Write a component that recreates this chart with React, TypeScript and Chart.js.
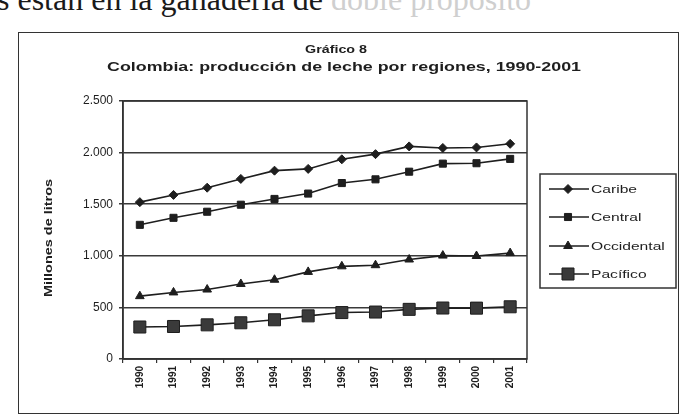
import React, { useEffect, useRef } from "react";
import { Chart, registerables } from "chart.js";

Chart.register(...registerables);

const years = ["1990", "1991", "1992", "1993", "1994", "1995", "1996", "1997", "1998", "1999", "2000", "2001"];
const caribe = [1520, 1590, 1660, 1745, 1825, 1842, 1935, 1985, 2060, 2045, 2050, 2085];
const central = [1300, 1368, 1427, 1495, 1551, 1603, 1705, 1741, 1815, 1893, 1897, 1939];
const occidental = [609, 645, 673, 727, 768, 844, 898, 909, 964, 1002, 998, 1026];
const pacifico = [310, 315, 331, 351, 380, 418, 450, 455, 481, 494, 493, 506];
const seriesNames = ["Caribe", "Central", "Occidental", "Pacífico"];
const titleLine1 = "Gráfico 8";
const titleLine2 = "Colombia: producción de leche por regiones, 1990-2001";
const yAxisTitle = "Millones de litros";

const INK = "#1e1e1e";
const FONT = "'Liberation Sans', Arial, sans-serif";

function fmt(v: number): string {
  return String(v).replace(/\B(?=(\d{3})+(?!\d))/g, ".");
}

function drawMarker(ctx: CanvasRenderingContext2D, style: string, x: number, y: number, r: number) {
  ctx.beginPath();
  if (style === "rectRot") {
    ctx.moveTo(x, y - r);
    ctx.lineTo(x + r, y);
    ctx.lineTo(x, y + r);
    ctx.lineTo(x - r, y);
    ctx.closePath();
  } else if (style === "rect") {
    const s = r * Math.SQRT1_2;
    ctx.rect(x - s, y - s, 2 * s, 2 * s);
  } else if (style === "triangle") {
    ctx.moveTo(x, y - r);
    ctx.lineTo(x + r * 0.87, y + r * 0.5);
    ctx.lineTo(x - r * 0.87, y + r * 0.5);
    ctx.closePath();
  }
  ctx.fill();
  ctx.stroke();
}

function stretched(ctx: CanvasRenderingContext2D, text: string, x: number, y: number, font: string, scaleX: number, rot = 0) {
  ctx.save();
  ctx.font = font;
  ctx.translate(x, y);
  if (rot) ctx.rotate(rot);
  ctx.scale(scaleX, 1);
  ctx.fillText(text, 0, 0);
  ctx.restore();
}

const framePlugin = {
  id: "frame",
  afterDraw(chart: any) {
    const ctx: CanvasRenderingContext2D = chart.ctx;
    const a = chart.chartArea;
    ctx.save();
    ctx.strokeStyle = "#333";
    ctx.lineWidth = 1.5;
    ctx.strokeRect(a.left, a.top, a.right - a.left, a.bottom - a.top);
    ctx.fillStyle = INK;
    ctx.textAlign = "center";
    ctx.textBaseline = "middle";
    stretched(ctx, titleLine1, 336, 50, `bold 11px ${FONT}`, 1.3);
    ctx.font = `bold 13px ${FONT}`;
    const w = ctx.measureText(titleLine2).width;
    stretched(ctx, titleLine2, 344, 67, `bold 13px ${FONT}`, 474 / w);
    // y-axis title
    ctx.font = `bold 10px ${FONT}`;
    const wy = ctx.measureText(yAxisTitle).width;
    stretched(ctx, yAxisTitle, 49, 238, `bold 10px ${FONT}`, 118 / wy, -Math.PI / 2);
    // legend
    ctx.strokeStyle = "#333";
    ctx.lineWidth = 1.5;
    ctx.strokeRect(540, 174, 136, 114);
    const ys = [189, 217, 246, 274];
    ctx.textAlign = "left";
    chart.data.datasets.forEach((ds: any, i: number) => {
      const y = ys[i];
      ctx.strokeStyle = ds.borderColor;
      ctx.lineWidth = ds.borderWidth;
      ctx.beginPath();
      ctx.moveTo(549, y);
      ctx.lineTo(589, y);
      ctx.stroke();
      ctx.fillStyle = ds.pointBackgroundColor;
      ctx.strokeStyle = ds.pointBorderColor;
      ctx.lineWidth = 1;
      drawMarker(ctx, ds.pointStyle, 568, y, ds.pointRadius);
      ctx.fillStyle = INK;
      stretched(ctx, ds.label, 591, y + 1, `11px ${FONT}`, 1.42);
    });
    ctx.restore();
  },
};

export default function App() {
  const ref = useRef<HTMLCanvasElement | null>(null);
  useEffect(() => {
    if (!ref.current) return;
    const mk = (label: string, data: number[], style: string, r: number, fill: string) => ({
      label,
      data,
      borderColor: INK,
      borderWidth: 1.6,
      pointStyle: style,
      pointRadius: r,
      pointBackgroundColor: fill,
      pointBorderColor: INK,
      pointBorderWidth: 1,
      tension: 0,
    });
    const chart = new Chart(ref.current, {
      type: "line",
      data: {
        labels: years,
        datasets: [
          mk(seriesNames[0], caribe, "rectRot", 4.5, INK),
          mk(seriesNames[1], central, "rect", 5, INK),
          mk(seriesNames[2], occidental, "triangle", 5, INK),
          mk(seriesNames[3], pacifico, "rect", 8.5, "#3a3a3a"),
        ] as any,
      },
      options: {
        animation: false,
        responsive: false,
        maintainAspectRatio: false,
        layout: { padding: { left: 40, top: 101, right: 153, bottom: 15 } },
        plugins: { legend: { display: false }, title: { display: false }, tooltip: { enabled: false } },
        scales: {
          x: {
            offset: true,
            afterFit: (s: any) => {
              s.height = 45;
            },
            grid: { display: true, drawOnChartArea: false, drawTicks: true, tickLength: 4, color: "#333", lineWidth: 1.2, offset: true },
            border: { display: true, color: "#333", width: 1.5 },
            ticks: {
              color: INK,
              font: { family: FONT, size: 10, weight: "bold" },
              minRotation: 90,
              maxRotation: 90,
              padding: 3,
              autoSkip: false,
            },
          },
          y: {
            min: 0,
            max: 2500,
            afterFit: (s: any) => {
              s.width = 83;
            },
            grid: { color: "#3a3a3a", lineWidth: 1.5, tickLength: 4, drawTicks: true },
            border: { display: true, color: "#333", width: 1.5 },
            ticks: {
              stepSize: 500,
              color: INK,
              font: { family: FONT, size: 12 },
              padding: 6,
              callback: (v: any) => fmt(Number(v)),
            },
            title: { display: false },
          },
        },
      } as any,
      plugins: [framePlugin],
    });
    return () => chart.destroy();
  }, []);
  return (
    <div style={{ position: "absolute", left: 0, top: 0, width: 680, height: 419, overflow: "hidden", background: "#fff" }}>
      <div
        style={{
          position: "absolute",
          left: -3,
          top: -17,
          whiteSpace: "nowrap",
          fontFamily: "'Liberation Serif', serif",
          fontSize: 32,
          lineHeight: "32px",
          color: "#1a1a1a",
        }}
      >
        s están en la ganadería de <span style={{ color: "#cfcfcf" }}>doble propósito</span>
      </div>
      <div
        style={{
          position: "absolute",
          left: 18,
          top: 32,
          width: 661,
          height: 382,
          border: "1.5px solid #333",
          boxSizing: "border-box",
        }}
      />
      <canvas ref={ref} width={680} height={419} style={{ position: "absolute", left: 0, top: 0 }} />
    </div>
  );
}
